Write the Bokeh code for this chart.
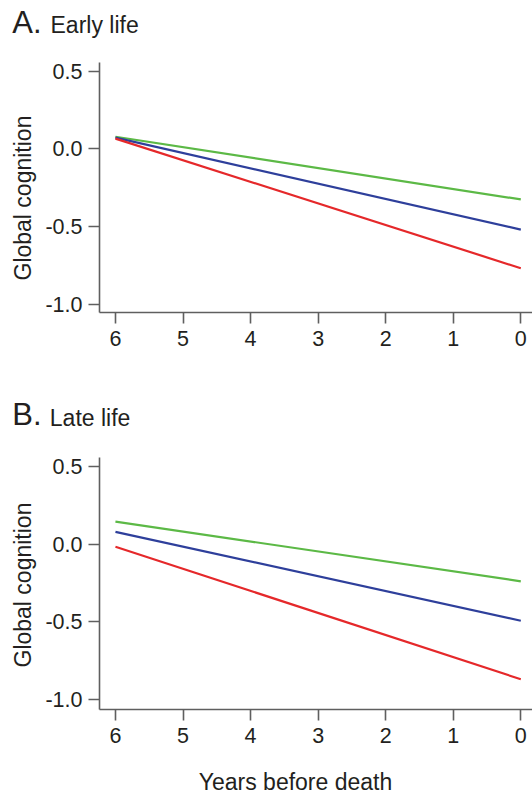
from bokeh.plotting import figure
from bokeh.layouts import column
from bokeh.models import Range1d, FixedTicker, Title
from bokeh.core.properties import value
from bokeh.embed import file_html
from bokeh.resources import INLINE

# ---- data ----
years = [6, 0]
early_green = [0.078, -0.326]
early_blue = [0.072, -0.520]
early_red = [0.066, -0.769]
late_green = [0.145, -0.240]
late_blue = [0.079, -0.494]
late_red = [-0.017, -0.871]

x_ticks = [0, 1, 2, 3, 4, 5, 6]
y_ticks = [-1.0, -0.5, 0.0, 0.5]
y_tick_labels = ["-1.0", "-0.5", "0.0", "0.5"]

panel_letters = ["A.", "B."]
panel_titles = ["Early life", "Late life"]
y_title = "Global cognition"
x_title = "Years before death"

GREEN = "#5cb946"
BLUE = "#2e3f9b"
RED = "#e5282a"
TXT = "#231f20"
AX = "#5f5f5f"
FONT = "Liberation Sans"
W = 532
SHIFT = 0.325  # empirical baseline correction (em)


def text_strip(height, items):
    """A strip whose frame is the whole canvas, in pixel-like units (y down)."""
    s = figure(width=W, height=height, output_backend="svg", toolbar_location=None,
               x_axis_location=None, y_axis_location=None,
               x_range=Range1d(0, W), y_range=Range1d(height, 0),
               min_border=0, min_border_left=0, min_border_right=0,
               min_border_top=0, min_border_bottom=0)
    if "frame_align" in s.properties():
        s.frame_align = False
    s.grid.visible = False
    s.outline_line_color = None
    for x, y, txt, size, align in items:
        s.text(x=[x], y=[y - SHIFT * size], text=[txt], text_font=value(FONT),
               text_font_size=f"{size}px", text_color=TXT,
               text_baseline="alphabetic", text_align=align)
    return s


def make_panel(height, border_top, border_bottom, y_rng, series, ytitle_offset):
    p = figure(width=W, height=height, output_backend="svg", toolbar_location=None,
               x_range=Range1d(6.236, -0.173), y_range=Range1d(*y_rng),
               min_border_left=98, min_border_right=0,
               min_border_top=border_top, min_border_bottom=border_bottom)
    p.outline_line_color = None
    p.grid.visible = False

    for ax in (p.xaxis[0], p.yaxis[0]):
        ax.axis_line_color = AX
        ax.axis_line_width = 1.6
        ax.major_tick_line_color = AX
        ax.major_tick_line_width = 1.6
        ax.major_tick_out = 11
        ax.major_tick_in = 0
        ax.minor_tick_out = 0
        ax.minor_tick_in = 0
        ax.major_label_text_font = FONT
        ax.major_label_text_font_size = "21.5px"
        ax.major_label_text_color = TXT

    p.xaxis.ticker = FixedTicker(ticks=x_ticks)
    p.xaxis.major_label_standoff = 7
    p.yaxis.ticker = FixedTicker(ticks=y_ticks)
    p.yaxis.major_label_overrides = {t: s for t, s in zip(y_ticks, y_tick_labels)}
    p.yaxis.major_label_standoff = 6
    p.yaxis.major_label_orientation = "horizontal"

    p.add_layout(Title(text=y_title, align="left", offset=ytitle_offset,
                       text_font=FONT, text_font_size="23px", text_font_style="normal",
                       text_color=TXT, standoff=14), "left")

    for ys, c in series:
        p.line(years, ys, line_color=c, line_width=2.2)
    return p


head_a = text_strip(45, [(11.7, 32.0, panel_letters[0], 31, "left"),
                         (50.0, 32.0, panel_titles[0], 23, "left")])
p1 = make_panel(350, 17, 83, (-1.054, 0.556),
                [(early_green, GREEN), (early_blue, BLUE), (early_red, RED)], 32)
head_b = text_strip(40, [(11.7, 29.5, panel_letters[1], 31, "left"),
                         (49.3, 29.5, panel_titles[1], 23, "left")])
p2 = make_panel(325, 22, 51, (-1.066, 0.558),
                [(late_green, GREEN), (late_blue, BLUE), (late_red, RED)], 42)
foot = text_strip(34, [(295.0, 28.5, x_title, 23, "center")])

layout = column(head_a, p1, head_b, p2, foot, spacing=0)
open("out.html", "w").write(file_html(layout, INLINE))
